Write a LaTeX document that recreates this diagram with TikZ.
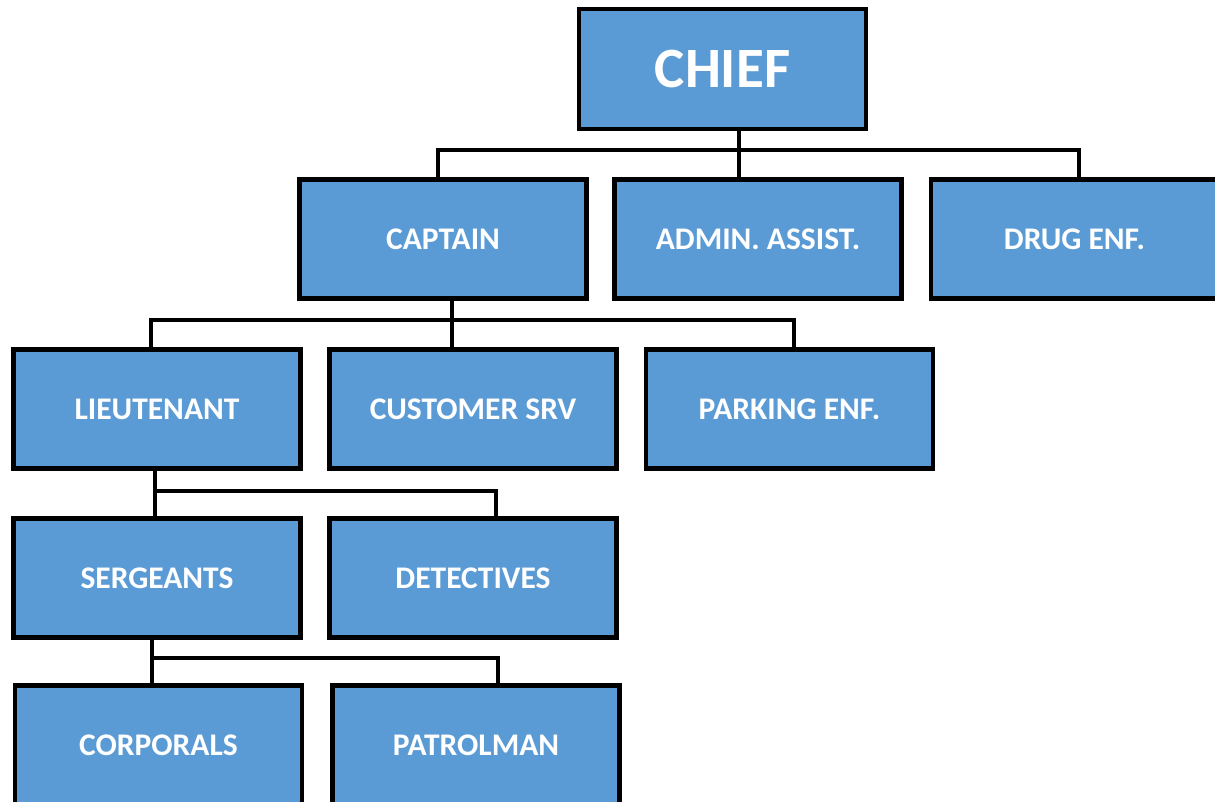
\documentclass[tikz,border=0pt]{standalone}
\usepackage{fontspec}
\setmainfont{Carlito}
\definecolor{boxblue}{HTML}{5B9BD5}
\begin{document}
\begin{tikzpicture}[x=1pt,y=-1pt,
  unit/.style={draw=black, line width=4.5pt, fill=boxblue, minimum width=287pt,
    minimum height=119pt, inner sep=0pt, text=white, anchor=center,
    font=\bfseries\fontsize{31.5}{36}\selectfont},
  topunit/.style={unit, minimum height=120pt, font=\bfseries\fontsize{57}{64}\selectfont},
  link/.style={draw=black, line width=4pt, line join=miter}]
\useasboundingbox (0,0) rectangle (1215,801);
\clip (0,0) rectangle (1215,801);

% boxes
\node[topunit] (chief) at (722.5,69) {CHIEF};
\node[unit] (captain) at (443,239) {CAPTAIN};
\node[unit] (admin) at (758,239) {ADMIN. ASSIST.};
\node[unit] (drug) at (1074.5,239) {DRUG ENF.};
\node[unit] (lieut) at (157,409) {LIEUTENANT};
\node[unit] (cust) at (473,409) {CUSTOMER SRV};
\node[unit] (park) at (789.5,409) {PARKING ENF.};
\node[unit] (serg) at (157,578) {SERGEANTS};
\node[unit] (det) at (473,578) {DETECTIVES};
\node[unit] (corp) at (158.5,745) {CORPORALS};
\node[unit] (patrol) at (476,745) {PATROLMAN};

% bus junctions
\coordinate (a1) at (437.5,150);
\coordinate (a2) at (739,150);
\coordinate (a3) at (1079,150);
\coordinate (b1) at (151,320);
\coordinate (b2) at (452,320);
\coordinate (b3) at (794,320);
\coordinate (c1) at (155,490.5);
\coordinate (c2) at (496,490.5);
\coordinate (d1) at (152,658);
\coordinate (d2) at (497.5,658);

% connectors
\draw[link] (chief.south -| a2) -- (admin.north -| a2);
\draw[link] (captain.north -| a1) -- (a1) -- (a3) -- (drug.north -| a3);

\draw[link] (captain.south -| b2) -- (cust.north -| b2);
\draw[link] (lieut.north -| b1) -- (b1) -- (b3) -- (park.north -| b3);

\draw[link] (lieut.south -| c1) -- (serg.north -| c1);
\draw[link] (c1) -- (c2) -- (det.north -| c2);

\draw[link] (serg.south -| d1) -- (corp.north -| d1);
\draw[link] (d1) -- (d2) -- (patrol.north -| d2);
\end{tikzpicture}
\end{document}
